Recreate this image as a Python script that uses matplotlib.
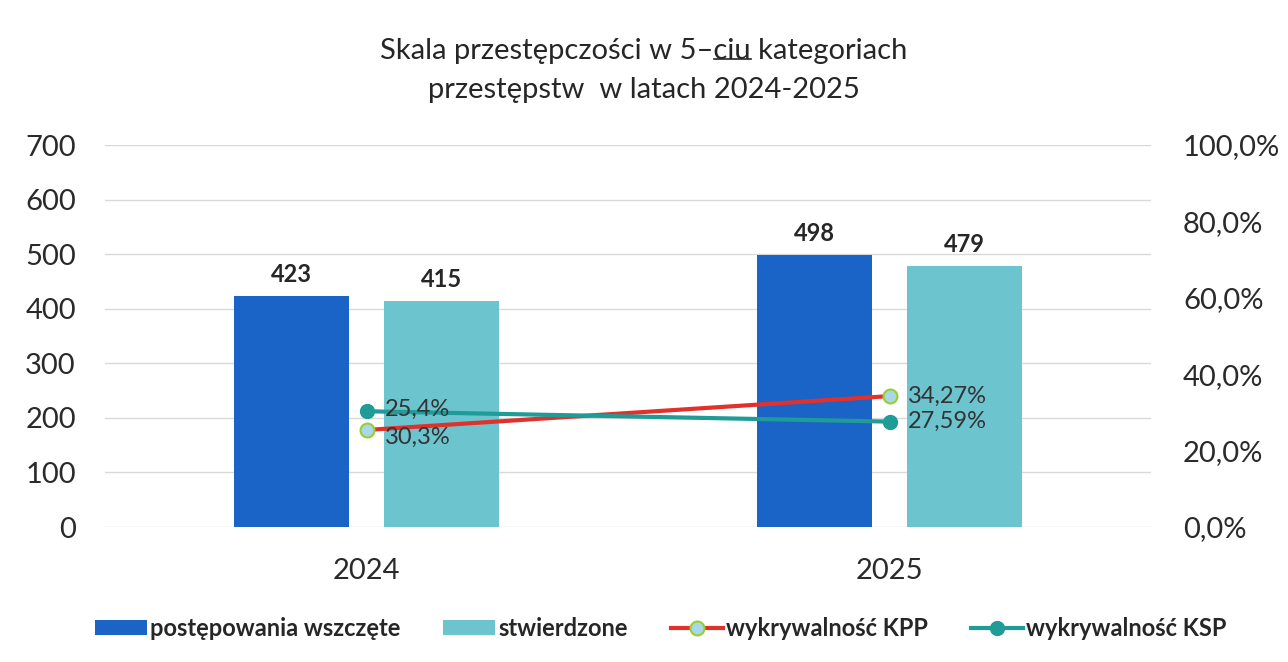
import matplotlib.pyplot as plt
import numpy as np

plt.rcParams['font.family'] = ['Lato', 'DejaVu Sans']

years = ['2024', '2025']
wszczete = [423, 498]
stwierdzone = [415, 479]
kpp = [25.4, 34.27]
ksp = [30.3, 27.59]
kpp_labels = ['25,4%', '34,27%']
ksp_labels = ['30,3%', '27,59%']

c_dark = '#1a64c8'
c_light = '#6cc4cf'
c_red = '#e2312b'
c_teal = '#1f9b98'
c_text = '#2a2a2a'

fig = plt.figure(figsize=(12.88, 6.62), dpi=100)
ax = fig.add_axes([105 / 1288, 1 - 527 / 662, 1046 / 1288, 382 / 662])
ax2 = ax.twinx()

x = np.arange(len(years))
w = 0.22
b1 = ax.bar(x - 0.143, wszczete, w, color=c_dark, label='postępowania wszczęte', zorder=2)
b2 = ax.bar(x + 0.143, stwierdzone, w, color=c_light, label='stwierdzone', zorder=2)
for bars, vals in ((b1, wszczete), (b2, stwierdzone)):
    for r, v in zip(bars, vals):
        ax.text(r.get_x() + r.get_width() / 2, v + 18, str(v), ha='center', va='bottom',
                fontsize=17, fontweight='bold', color='#262626')

ax.set_xlim(-0.5, 1.5)
ax.set_ylim(0, 700)
ax.set_yticks(range(0, 701, 100))
ax.grid(axis='y', color='#d9d9d9', lw=1, zorder=0)
ax.set_xticks(x)
ax.set_xticklabels(years)
ax.tick_params(axis='both', length=0, labelsize=21, colors=c_text)
ax.tick_params(axis='x', pad=22)
ax.tick_params(axis='y', pad=21)
for s in ax.spines.values():
    s.set_visible(False)

ax2.set_ylim(0, 100)
ax2.set_yticks(range(0, 101, 20))
ax2.set_yticklabels(['{:.1f}%'.format(t).replace('.', ',') for t in range(0, 101, 20)])
ax2.tick_params(axis='y', length=0, labelsize=21, colors=c_text, pad=23)
for s in ax2.spines.values():
    s.set_visible(False)

l1, = ax2.plot(x, kpp, color=c_red, lw=3, marker='o', ms=10, mfc='#a8d8e8', mec='#9acd32',
               mew=1.5, label='wykrywalność KPP', zorder=4)
l2, = ax2.plot(x, ksp, color=c_teal, lw=3, marker='o', ms=10, mfc=c_teal, mec=c_teal,
               label='wykrywalność KSP', zorder=4)

# label positions follow the original (2024 labels appear swapped)
lab = dict(fontsize=17, color='#333333', va='center', zorder=5)
ax2.text(x[0] + 0.035, ksp[0] + 0.6, kpp_labels[0], **lab)
ax2.text(x[0] + 0.035, kpp[0] - 2.0, ksp_labels[0], **lab)
ax2.text(x[1] + 0.035, kpp[1], kpp_labels[1], **lab)
ax2.text(x[1] + 0.035, ksp[1], ksp_labels[1], **lab)

title1 = 'Skala przestępczości w 5–ciu kategoriach'
t1 = fig.text(0.5, 1 - 51 / 662, title1, ha='center', va='center', fontsize=21, color='#262626')
fig.text(0.5, 1 - 90 / 662, 'przestępstw  w latach 2024-2025',
         ha='center', va='center', fontsize=21, color='#262626')

# underline "ciu" in the first title line
renderer = fig.canvas.get_renderer()
bb = t1.get_window_extent(renderer)
pre = fig.text(0, 0, 'Skala przestępczości w 5–', fontsize=21)
mid = fig.text(0, 0, 'ciu', fontsize=21)
x0 = bb.x0 + pre.get_window_extent(renderer).width
x1 = x0 + mid.get_window_extent(renderer).width
pre.remove()
mid.remove()
yl = (bb.y0 + 5) / fig.bbox.height
fig.add_artist(plt.Line2D([x0 / fig.bbox.width, x1 / fig.bbox.width], [yl, yl],
                          color='#262626', lw=1.2))

fig.legend(handles=[b1, b2, l1, l2], loc='center', bbox_to_anchor=(0.513, 1 - 628 / 662),
           ncol=4, frameon=False, handlelength=2.2, handletextpad=0.15, handleheight=0.6,
           columnspacing=1.8, labelcolor='#262626', prop={'weight': 'bold', 'size': 17})

fig.savefig('out.png', dpi=100)
